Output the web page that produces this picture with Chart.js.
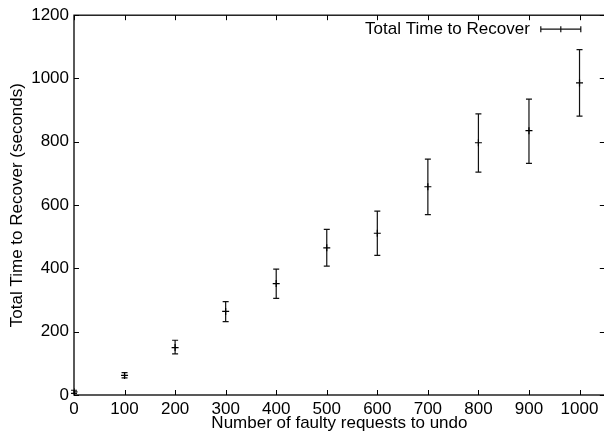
<!DOCTYPE html>
<html>
<head>
<meta charset="utf-8">
<script src="https://cdn.jsdelivr.net/npm/chart.js@4.4.1/dist/chart.umd.min.js"></script>
<style>
  html, body { margin: 0; padding: 0; background: #fff; overflow: hidden; }
  #wrap { width: 610px; height: 435px; }
</style>
</head>
<body>
<div id="wrap"><canvas id="recoverChart" width="610" height="435"></canvas></div>
<script>
// data
const requests = [0, 100, 200, 300, 400, 500, 600, 700, 800, 900, 1000];
const meanTime = [10, 62, 150, 264, 352, 465, 511, 658, 797, 835, 986];
const lowTime  = [5, 54, 130, 232, 305, 407, 441, 570, 704, 732, 881];
const highTime = [15, 71, 173, 295, 398, 523, 581, 745, 888, 935, 1091];

const xTicks = [0, 100, 200, 300, 400, 500, 600, 700, 800, 900, 1000];
const yTicks = [0, 200, 400, 600, 800, 1000, 1200];

const seriesLabel = "Total Time to Recover";
const FONT = '"Liberation Sans", Arial, Helvetica, sans-serif';
const FSIZE = 17;

// gnuplot-like frame, inward ticks, error bars and legend
const gnuplotLook = {
    id: "gnuplotLook",
    beforeDatasetsDraw(chart) {
        const ctx = chart.ctx;
        const xs = chart.scales.x, ys = chart.scales.y;
        ctx.save();
        ctx.strokeStyle = "#111";
        ctx.lineWidth = 1.2;
        for (let i = 0; i < requests.length; i++) {
            const px = xs.getPixelForValue(requests[i]);
            const lo = ys.getPixelForValue(lowTime[i]);
            const hi = ys.getPixelForValue(highTime[i]);
            ctx.beginPath();
            ctx.moveTo(px, lo); ctx.lineTo(px, hi);
            ctx.moveTo(px - 3, lo); ctx.lineTo(px + 3, lo);
            ctx.moveTo(px - 3, hi); ctx.lineTo(px + 3, hi);
            ctx.stroke();
        }
        ctx.restore();
    },
    afterDraw(chart) {
        const ctx = chart.ctx;
        const a = chart.chartArea;
        const xs = chart.scales.x, ys = chart.scales.y;
        ctx.save();
        ctx.strokeStyle = "#000";
        ctx.lineWidth = 1.3;
        ctx.strokeRect(a.left, a.top, a.right - a.left, a.bottom - a.top);

        // ticks pointing inward, mirrored on top / right
        ctx.lineWidth = 1;
        ctx.beginPath();
        xTicks.forEach(v => {
            const px = Math.round(xs.getPixelForValue(v)) + 0.5;
            ctx.moveTo(px, a.bottom); ctx.lineTo(px, a.bottom - 5);
            ctx.moveTo(px, a.top); ctx.lineTo(px, a.top + 5);
        });
        yTicks.forEach(v => {
            const py = Math.round(ys.getPixelForValue(v)) + 0.5;
            ctx.moveTo(a.left, py); ctx.lineTo(a.left + 5, py);
            ctx.moveTo(a.right, py); ctx.lineTo(a.right - 5, py);
        });
        ctx.stroke();

        // legend: text then a horizontal error-bar sample
        const ly = a.top + 14;
        ctx.fillStyle = "#000";
        ctx.font = FSIZE + "px " + FONT;
        ctx.textAlign = "right";
        ctx.textBaseline = "middle";
        ctx.fillText(seriesLabel, a.right - 75, ly);
        const s0 = a.right - 64, s1 = a.right - 24, sm = (s0 + s1) / 2;
        ctx.strokeStyle = "#111";
        ctx.lineWidth = 1.2;
        ctx.beginPath();
        ctx.moveTo(s0, ly); ctx.lineTo(s1, ly);
        ctx.moveTo(s0, ly - 3); ctx.lineTo(s0, ly + 3);
        ctx.moveTo(s1, ly - 3); ctx.lineTo(s1, ly + 3);
        ctx.moveTo(sm - 3, ly); ctx.lineTo(sm + 3, ly);
        ctx.moveTo(sm, ly - 3); ctx.lineTo(sm, ly + 3);
        ctx.stroke();
        ctx.restore();
    }
};

const ctx = document.getElementById("recoverChart").getContext("2d");
new Chart(ctx, {
    type: "scatter",
    data: {
        datasets: [{
            label: seriesLabel,
            data: requests.map((r, i) => ({ x: r, y: meanTime[i] })),
            pointStyle: "cross",
            pointRadius: 3.5,
            pointBorderColor: "#000",
            pointBorderWidth: 1.2,
            pointBackgroundColor: "#000"
        }]
    },
    options: {
        responsive: false,
        animation: false,
        layout: { padding: { top: 15, right: 5, left: 0, bottom: 0 } },
        plugins: {
            legend: { display: false },
            tooltip: { enabled: false }
        },
        scales: {
            x: {
                type: "linear",
                min: 0,
                max: 1050,
                afterBuildTicks: s => { s.ticks = xTicks.map(v => ({ value: v })); },
                afterFit: s => { s.height = 40; },
                grid: { display: false, drawTicks: false },
                border: { display: false },
                ticks: {
                    color: "#000", font: { family: FONT, size: FSIZE }, padding: 4, maxRotation: 0,
                    callback: v => String(v)
                },
                title: {
                    display: true,
                    text: "Number of faulty requests to undo",
                    color: "#000",
                    font: { family: FONT, size: FSIZE },
                    padding: { top: 0, bottom: 1 }
                }
            },
            y: {
                min: 0,
                max: 1200,
                afterBuildTicks: s => { s.ticks = yTicks.map(v => ({ value: v })); },
                afterFit: s => { s.width = 74; },
                grid: { display: false, drawTicks: false },
                border: { display: false },
                ticks: {
                    color: "#000", font: { family: FONT, size: FSIZE }, padding: 5,
                    callback: v => String(v)
                },
                title: {
                    display: true,
                    text: "Total Time to Recover (seconds)",
                    color: "#000",
                    font: { family: FONT, size: FSIZE },
                    padding: { top: 7, bottom: 0 }
                }
            }
        }
    },
    plugins: [gnuplotLook]
});
</script>
</body>
</html>
